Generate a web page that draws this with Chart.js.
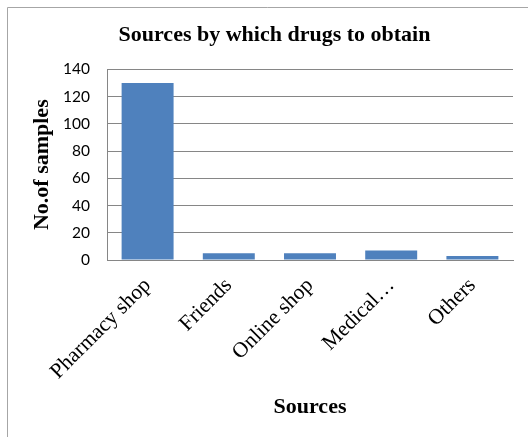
<!DOCTYPE html>
<html>
<head>
<meta charset="utf-8">
<script src="https://cdn.jsdelivr.net/npm/chart.js@4"></script>
<style>
  body { margin: 0; background: #fff; }
  canvas { display: block; }
</style>
</head>
<body>
<canvas id="myChart" width="528" height="437"></canvas>
<script>
const categories = ["Pharmacy shop", "Friends", "Online shop", "Medical…", "Others"];
const samples = [130, 5, 5, 7, 3];
const yTicks = [0, 20, 40, 60, 80, 100, 120, 140];

const serif = "'Liberation Serif', 'Times New Roman', serif";

// frame of the chart box (only left and top edges show in the picture)
const frame = {
  id: "frame",
  beforeDraw(chart) {
    const ctx = chart.ctx;
    ctx.save();
    ctx.strokeStyle = "#a6a6a6";
    ctx.lineWidth = 1;
    ctx.beginPath();
    ctx.moveTo(7.5, 437);
    ctx.lineTo(7.5, 7.5);
    ctx.lineTo(528, 7.5);
    ctx.stroke();
    ctx.restore();
  },
};

new Chart(document.getElementById("myChart"), {
  type: "bar",
  data: {
    labels: categories,
    datasets: [
      {
        label: "No.of samples",
        data: samples,
        backgroundColor: "#4f81bd",
        barPercentage: 0.64,
        categoryPercentage: 1,
      },
    ],
  },
  options: {
    responsive: false,
    animation: false,
    layout: { padding: { left: 21, right: 0, top: 0, bottom: 0 } },
    plugins: {
      legend: { display: false },
      tooltip: { enabled: false },
      title: {
        display: true,
        text: "Sources by which drugs to obtain",
        color: "#000",
        font: { family: serif, size: 22, weight: "bold", lineHeight: 1.2 },
        padding: { top: 22, bottom: 21 },
      },
    },
    scales: {
      x: {
        grid: { display: false },
        border: { display: true, color: "#868686" },
        ticks: {
          color: "#000",
          font: { family: serif, size: 21.5 },
          minRotation: 45,
          maxRotation: 45,
          autoSkip: false,
          padding: 5,
        },
        title: {
          display: true,
          text: "Sources",
          color: "#000",
          font: { family: serif, size: 22, weight: "bold", lineHeight: 1.2 },
          padding: { top: 0, bottom: 16 },
        },
        afterFit: (scale) => {
          scale.height = 177;
          scale.paddingLeft = 0;
          scale.paddingRight = 15;
        },
      },
      y: {
        min: 0,
        max: 140,
        afterBuildTicks: (scale) => {
          scale.ticks = yTicks.map((v) => ({ value: v }));
        },
        grid: { color: "#868686", drawTicks: false },
        border: { display: true, color: "#868686" },
        ticks: {
          color: "#000",
          font: { family: "Lato, 'Open Sans', sans-serif", size: 15.5 },
          padding: 17,
        },
        title: {
          display: true,
          text: "No.of samples",
          color: "#000",
          font: { family: serif, size: 22, weight: "bold", lineHeight: 1.2 },
          padding: { top: 8, bottom: 0 },
        },
        afterFit: (scale) => {
          scale.width = 86;
        },
      },
    },
  },
  plugins: [frame],
});
</script>
</body>
</html>
